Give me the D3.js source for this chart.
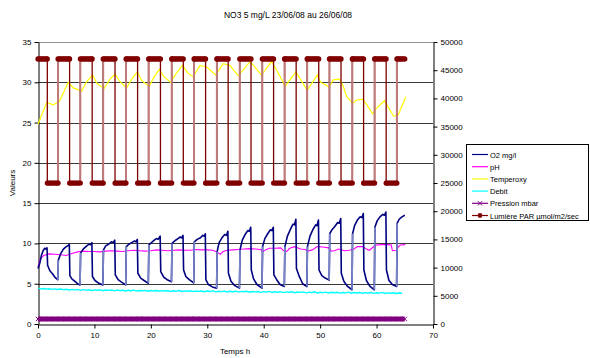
<!DOCTYPE html>
<html>
<head>
<meta charset="utf-8">
<script src="https://cdn.jsdelivr.net/npm/d3@7"></script>
<style>
  html, body { margin: 0; padding: 0; background: #fff; }
  svg { display: block; font-family: "Liberation Sans", Arial, sans-serif; }
</style>
</head>
<body>
<svg id="chart" width="590" height="358"></svg>
<script>
// ---- Data (time in hours) ----
const chartTitle = "NO3 5 mg/L 23/06/08 au 26/06/08";
const xTicks = [0, 10, 20, 30, 40, 50, 60, 70];
const leftTicks = [0, 5, 10, 15, 20, 25, 30, 35];
const rightTicks = [0, 5000, 10000, 15000, 20000, 25000, 30000, 35000, 40000, 45000, 50000];
const seriesNames = ["O2 mg/l", "pH", "Temperoxy", "Debit", "Pression mbar", "Lumière PAR µmol/m2/sec"];

// O2 (mg/l), left axis
const o2Time = [
  0, 0.3, 0.6, 0.9, 1.2, 1.4, 1.6,
  1.7, 2.1, 2.6, 3.0, 3.5,
  3.6, 4.0, 4.5, 5.0, 5.3, 5.55,
  5.65, 6.0, 6.6, 7.0, 7.45,
  7.55, 8.0, 8.5, 9.0, 9.3, 9.55,
  9.65, 10.1, 10.8, 11.5,
  11.6, 12.0, 12.5, 13.0, 13.3, 13.6,
  13.7, 14.2, 14.8, 15.55,
  15.65, 16.1, 16.6, 17.1, 17.35, 17.6,
  17.7, 18.2, 18.8, 19.55,
  19.65, 20.1, 20.6, 21.0, 21.3, 21.65,
  21.75, 22.3, 23.0, 23.65,
  23.75, 24.2, 24.8, 25.2, 25.45, 25.7,
  25.8, 26.2, 26.8, 27.6,
  27.7, 28.2, 28.8, 29.2, 29.45, 29.65,
  29.75, 30.2, 30.9, 31.65,
  31.75, 32.1, 32.6, 33.1, 33.4, 33.65,
  33.75, 34.2, 34.8, 35.7,
  35.8, 36.2, 36.7, 37.2, 37.45, 37.7,
  37.8, 38.2, 38.8, 39.7,
  39.8, 40.2, 40.7, 41.2, 41.45, 41.7,
  41.8, 42.3, 42.9, 43.65,
  43.75, 44.2, 44.7, 45.2, 45.45, 45.7,
  45.8, 46.3, 46.9, 47.65,
  47.75, 48.2, 48.7, 49.2, 49.45, 49.7,
  49.8, 50.3, 50.9, 51.6,
  51.7, 52.1, 52.6, 53.1, 53.4, 53.65,
  53.75, 54.2, 54.8, 55.65,
  55.75, 56.1, 56.6, 57.1, 57.4, 57.65,
  57.75, 58.2, 58.8, 59.6,
  59.7, 60.1, 60.6, 61.1, 61.4, 61.65,
  61.75, 62.2, 62.8, 63.55,
  63.65, 64.0, 64.5, 65.0
];
const o2Value = [
  6.9, 7.5, 8.5, 9.1, 9.4, 9.3, 9.45,
  7.3, 6.6, 6.2, 5.8, 5.5,
  7.9, 8.7, 9.3, 9.6, 9.7, 9.9,
  6.0, 5.6, 5.25, 5.0, 4.85,
  8.8, 9.3, 9.6, 9.9, 9.85, 10.1,
  5.9, 5.4, 5.05, 4.85,
  9.2, 9.7, 9.9, 10.2, 10.1, 10.4,
  6.1, 5.5, 5.2, 4.85,
  9.6, 9.9, 10.1, 10.3, 10.2, 10.5,
  6.3, 5.7, 5.4, 5.05,
  9.8, 10.1, 10.4, 10.6, 10.5, 10.9,
  6.5, 5.8, 5.45, 5.25,
  10.0, 10.3, 10.6, 10.8, 10.7, 11.0,
  6.7, 5.9, 5.5, 5.1,
  10.2, 10.5, 10.7, 11.0, 10.9, 11.2,
  5.5, 4.9, 4.6, 4.45,
  9.0, 10.1, 10.7, 11.1, 11.0, 11.5,
  6.3, 5.3, 4.8, 4.45,
  9.2, 10.4, 11.1, 11.6, 11.5, 12.0,
  6.7, 5.6, 4.9, 4.45,
  9.6, 10.6, 11.2, 11.7, 11.6, 12.0,
  6.1, 5.5, 4.9, 4.65,
  9.6, 10.9, 11.7, 12.4, 12.3, 13.0,
  6.9, 5.9, 5.0, 4.65,
  9.6, 10.9, 11.7, 12.3, 12.2, 12.9,
  6.7, 6.0, 5.7, 5.45,
  11.2, 11.7, 12.1, 12.6, 12.5, 13.1,
  6.3, 5.3, 4.7, 4.25,
  11.2, 12.2, 12.9, 13.3, 13.2, 13.7,
  6.7, 5.4, 4.7, 4.25,
  12.0, 12.8, 13.3, 13.6, 13.5, 13.9,
  6.7, 5.4, 4.9, 4.65,
  12.5, 13.0, 13.3, 13.5
];

// pH, left axis
const phTime = [0, 0.4, 1, 2, 3, 4, 5, 6, 7, 8, 9, 10, 11, 12, 13, 14, 15, 16, 17, 18, 19, 20,
  21, 22, 23, 24, 25, 26, 27, 28, 29, 30, 31, 31.7, 32.3, 32.8, 33.5, 34.5, 35.5, 36.5, 37.5,
  38.5, 39.5, 39.8, 40.3, 41, 42, 43, 43.6, 44.1, 44.6, 45.5, 46.5, 47.4, 47.8, 48.6, 49.5,
  50.5, 51.5, 52, 52.5, 53.3, 54.3, 55.2, 56, 56.6, 57.5, 58.2, 58.7, 59.3, 60, 61, 62, 62.6,
  62.8, 63.5, 63.8, 64.2, 65.1];
const phValue = [7.1, 8.1, 8.5, 8.7, 8.65, 8.6, 8.5, 8.75, 8.95, 9.05, 9.0, 9.0, 8.95, 9.05,
  9.1, 9.05, 9.0, 9.1, 9.15, 9.1, 9.05, 9.1, 9.2, 9.15, 9.1, 9.15, 9.2, 9.15, 9.15, 9.25, 9.2,
  9.2, 9.15, 8.95, 8.65, 9.0, 9.15, 9.2, 9.25, 9.3, 9.35, 9.3, 9.25, 8.95, 9.2, 9.4, 9.4, 9.45,
  9.05, 9.0, 9.4, 9.6, 9.3, 9.25, 9.05, 9.2, 9.6, 9.55, 9.45, 9.05, 9.1, 9.3, 9.1, 9.15, 9.3,
  9.6, 9.6, 9.3, 9.15, 9.5, 9.8, 9.85, 9.85, 9.8, 9.1, 9.15, 9.5, 9.8, 9.85];

// Temperature, left axis
const tempTime = [0, 1.54, 2.7, 3.77, 5.37, 6.26, 7.74, 8.63, 9.69, 10.4, 11.7, 12.76, 13.65,
  14.5, 15.7, 16.6, 17.6, 18.4, 19.7, 20.6, 21.5, 22.3, 23.5, 24.5, 25.6, 26.6, 27.5, 28.7,
  29.9, 31.5, 32.8, 34.0, 35.5, 37.6, 39.6, 41.4, 42.3, 43.8, 45.7, 47.7, 49.5, 50.1, 51.6,
  52.3, 53.4, 54.0, 54.7, 55.8, 56.5, 57.6, 59.3, 60.0, 61.4, 63.0, 63.8, 65.2];
const tempValue = [24.8, 27.5, 27.2, 27.6, 30.0, 29.3, 28.9, 30.1, 30.9, 29.9, 29.2, 30.4, 31.0,
  30.1, 29.3, 30.4, 31.3, 30.2, 29.5, 30.7, 31.6, 30.7, 30.0, 31.1, 32.1, 31.1, 30.7, 32.1,
  31.9, 30.9, 32.3, 32.1, 30.8, 32.6, 30.9, 32.6, 31.5, 29.5, 31.3, 29.0, 30.9, 30.0, 29.4,
  30.3, 30.4, 29.7, 28.2, 27.4, 27.8, 27.9, 26.1, 26.8, 27.7, 25.8, 25.9, 28.2];

// Debit, left axis, every half hour from 0 h to 65 h
const debitStep = 0.5;
const debitValue = [4.45, 4.36, 4.41, 4.33, 4.38, 4.30, 4.36, 4.28, 4.34, 4.27, 4.31, 4.22,
  4.30, 4.24, 4.29, 4.18, 4.27, 4.21, 4.25, 4.16, 4.24, 4.19, 4.23, 4.13, 4.22, 4.17, 4.21,
  4.12, 4.20, 4.15, 4.19, 4.10, 4.18, 4.13, 4.20, 4.09, 4.16, 4.12, 4.17, 4.07, 4.15, 4.10,
  4.16, 4.06, 4.14, 4.09, 4.13, 4.04, 4.13, 4.07, 4.15, 4.03, 4.11, 4.06, 4.12, 4.02, 4.10,
  4.05, 4.09, 4.00, 4.09, 4.04, 4.11, 3.99, 4.07, 4.02, 4.08, 3.97, 4.06, 4.01, 4.07, 3.96,
  4.05, 4.00, 4.06, 3.95, 4.04, 3.99, 4.03, 3.93, 4.02, 3.97, 4.05, 3.92, 4.00, 3.95, 4.01,
  3.90, 3.99, 3.94, 4.00, 3.89, 3.97, 3.93, 3.98, 3.87, 3.96, 3.91, 3.99, 3.86, 3.94, 3.89,
  3.95, 3.85, 3.93, 3.88, 3.94, 3.83, 3.91, 3.86, 3.95, 3.82, 3.90, 3.85, 3.91, 3.81, 3.89,
  3.84, 3.90, 3.80, 3.88, 3.83, 3.92, 3.79, 3.86, 3.82, 3.87, 3.78, 3.85, 3.81];

// Pression (mbar), right axis, hourly from 0 h to 65 h
const pressionValue = [892, 888, 890, 891, 889, 887, 890, 892, 889, 888, 891, 890, 889, 887,
  890, 891, 888, 889, 892, 890, 887, 889, 891, 890, 888, 889, 890, 892, 889, 887, 890, 891,
  888, 890, 889, 891, 887, 889, 890, 892, 888, 889, 891, 890, 887, 889, 890, 891, 888, 890,
  892, 889, 887, 890, 891, 889, 888, 890, 891, 887, 889, 890, 892, 888, 889, 890];

// Lumière PAR, right axis: lamp schedule (switch-off / switch-on times) and levels
const lightOffTimes = [1.65, 5.6, 9.6, 13.65, 17.65, 21.7, 25.75, 29.7, 33.7, 37.75, 41.75,
  45.75, 49.75, 53.7, 57.7, 61.7];
const lightOnTimes = [3.55, 7.5, 11.55, 15.6, 19.6, 23.7, 27.65, 31.7, 35.75, 39.75, 43.7,
  47.7, 51.65, 55.7, 59.65, 63.6];
const lightHigh = 47000, lightLow = 25000;
const lightSampleStep = 0.25, recordEnd = 65.0;

// ---- Layout ----
const svg = d3.select("#chart");
const x = d3.scaleLinear([0, 70], [38, 433]);
const yL = d3.scaleLinear([0, 35], [324, 42]);
const yR = d3.scaleLinear([0, 50000], [324, 42]);

const pts = (ts, vs) => ts.map((t, i) => ({ t, v: vs[i] }));
const stepped = (vs, step) => vs.map((v, i) => ({ t: i * step, v }));

// Lamp series: sampled levels plus both ends of each switch
const switches = lightOffTimes.map(t => ({ t, from: lightHigh, to: lightLow }))
  .concat(lightOnTimes.map(t => ({ t, from: lightLow, to: lightHigh })))
  .sort((a, b) => a.t - b.t);
function lampLevel(t) {
  let v = lightHigh;
  switches.forEach(s => { if (t >= s.t) v = s.to; });
  return v;
}
const lampSamples = d3.range(0, recordEnd + 1e-9, lightSampleStep)
  .filter(t => !switches.some(s => Math.abs(s.t - t) < 1e-9))
  .map(t => ({ t, v: lampLevel(t) }));
const lampLine = lampSamples.concat(
  switches.flatMap(s => [{ t: s.t, v: s.from, o: 0 }, { t: s.t, v: s.to, o: 1 }])
).sort((a, b) => a.t - b.t || (a.o || 0) - (b.o || 0));

// ---- Frame, grid ----
svg.append("text").attr("x", 288).attr("y", 18).attr("text-anchor", "middle")
  .attr("font-size", 8.5).text(chartTitle);

const grid = svg.append("g").attr("shape-rendering", "crispEdges");
grid.selectAll("line").data(leftTicks.filter(d => d > 0)).join("line")
  .attr("x1", x(0)).attr("x2", x(70))
  .attr("y1", d => Math.round(yL(d)) + 0.5).attr("y2", d => Math.round(yL(d)) + 0.5)
  .attr("stroke", d => d === 35 ? "#909090" : "#3a3a3a").attr("stroke-width", 1);

// ---- Axes ----
function styleAxis(g) {
  g.selectAll("path.domain").attr("stroke", "#000");
  g.selectAll(".tick line").attr("stroke", "#000");
  g.selectAll(".tick text").attr("font-size", 8).attr("fill", "#000")
    .attr("font-family", "Liberation Sans, Arial, sans-serif");
}
svg.append("g").attr("transform", "translate(38.5,0)")
  .call(d3.axisLeft(yL).tickValues(leftTicks).tickSize(4).tickSizeOuter(0).tickPadding(3))
  .call(styleAxis);
svg.append("g").attr("transform", "translate(433.5,0)")
  .call(d3.axisRight(yR).tickValues(rightTicks).tickSize(4).tickSizeOuter(0).tickPadding(3)
    .tickFormat(d3.format("d")))
  .call(styleAxis);
svg.append("g").attr("transform", "translate(0,324.5)")
  .call(d3.axisBottom(x).tickValues(xTicks).tickSize(4).tickSizeOuter(0).tickPadding(4))
  .call(styleAxis);

svg.append("text").attr("transform", "translate(15,183) rotate(-90)")
  .attr("text-anchor", "middle").attr("font-size", 8).text("Valeurs");
svg.append("text").attr("x", 235).attr("y", 354).attr("text-anchor", "middle")
  .attr("font-size", 8).text("Temps h");

// ---- Series ----
const lineL = d3.line().x(d => x(d.t)).y(d => yL(d.v));
const lineR = d3.line().x(d => x(d.t)).y(d => yR(d.v));
const plot = svg.append("g");

// steep upward segments of a series drawn in a lighter tone
function risingSegments(data, minSlope) {
  const segs = [];
  for (let i = 1; i < data.length; i++) {
    const a = data[i - 1], b = data[i];
    const dt = b.t - a.t, dv = b.v - a.v;
    if (dv > 0 && (dt === 0 || dv / dt > minSlope)) segs.push([a, b]);
  }
  return segs;
}

// Pression
const pression = stepped(pressionValue, 1);
plot.append("path").datum(pression).attr("d", lineR)
  .attr("fill", "none").attr("stroke", "#800080").attr("stroke-width", 5);
plot.append("g").selectAll("path").data(pression).join("path")
  .attr("transform", d => `translate(${x(d.t)},${yR(d.v)})`)
  .attr("d", d3.symbol(d3.symbolX, 14))
  .attr("stroke", "#800080").attr("stroke-width", 1).attr("fill", "none");

// Debit
plot.append("path").datum(stepped(debitValue, debitStep)).attr("d", lineL)
  .attr("fill", "none").attr("stroke", "#00ffff").attr("stroke-width", 1.4);

// pH
plot.append("path").datum(pts(phTime, phValue)).attr("d", lineL)
  .attr("fill", "none").attr("stroke", "#ff00ff").attr("stroke-width", 1.1);

// O2
const o2 = pts(o2Time, o2Value);
plot.append("path").datum(o2).attr("d", lineL)
  .attr("fill", "none").attr("stroke", "#000080").attr("stroke-width", 1.6)
  .attr("stroke-linejoin", "round");
plot.append("g").selectAll("line").data(risingSegments(o2, 20)).join("line")
  .attr("x1", d => x(d[0].t)).attr("y1", d => yL(d[0].v))
  .attr("x2", d => x(d[1].t)).attr("y2", d => yL(d[1].v))
  .attr("stroke", "#7886c8").attr("stroke-width", 1.6);

// Temperature
plot.append("path").datum(pts(tempTime, tempValue)).attr("d", lineL)
  .attr("fill", "none").attr("stroke", "#ffff00").attr("stroke-width", 1.2);

// Lumière PAR
plot.append("path").datum(lampLine).attr("d", lineR)
  .attr("fill", "none").attr("stroke", "#800000").attr("stroke-width", 1.3);
plot.append("g").selectAll("line").data(risingSegments(lampLine, 1e9)).join("line")
  .attr("x1", d => x(d[0].t)).attr("y1", d => yR(d[0].v))
  .attr("x2", d => x(d[1].t)).attr("y2", d => yR(d[1].v))
  .attr("stroke", "#bf7a7a").attr("stroke-width", 2);
plot.append("g").selectAll("circle").data(lampSamples.concat(
    switches.flatMap(s => [{ t: s.t, v: s.from }, { t: s.t, v: s.to }])))
  .join("circle")
  .attr("cx", d => x(d.t)).attr("cy", d => yR(d.v)).attr("r", 2.6)
  .attr("fill", "#800000");

// ---- Legend ----
const legend = svg.append("g");
legend.append("rect").attr("x", 466.5).attr("y", 144.5).attr("width", 122).attr("height", 76)
  .attr("fill", "#fff").attr("stroke", "#000").attr("stroke-width", 1);
const legendStyles = [
  { color: "#000080", w: 1.2 },
  { color: "#ff00ff", w: 1.2 },
  { color: "#ffff00", w: 1.2 },
  { color: "#00ffff", w: 1.2 },
  { color: "#800080", w: 1.2, mark: "x" },
  { color: "#800000", w: 1.2, mark: "o" }
];
seriesNames.forEach((name, i) => {
  const yy = 154.5 + i * 12.2;
  const s = legendStyles[i];
  legend.append("line").attr("x1", 472).attr("x2", 488).attr("y1", yy).attr("y2", yy)
    .attr("stroke", s.color).attr("stroke-width", s.w);
  if (s.mark === "x") {
    legend.append("path").attr("transform", `translate(480,${yy})`)
      .attr("d", d3.symbol(d3.symbolX, 14)).attr("stroke", s.color).attr("fill", "none");
  } else if (s.mark === "o") {
    legend.append("circle").attr("cx", 480).attr("cy", yy).attr("r", 2.4).attr("fill", s.color);
  }
  legend.append("text").attr("x", 490).attr("y", yy + 3).attr("font-size", 7.5).text(name);
});
</script>
</body>
</html>
